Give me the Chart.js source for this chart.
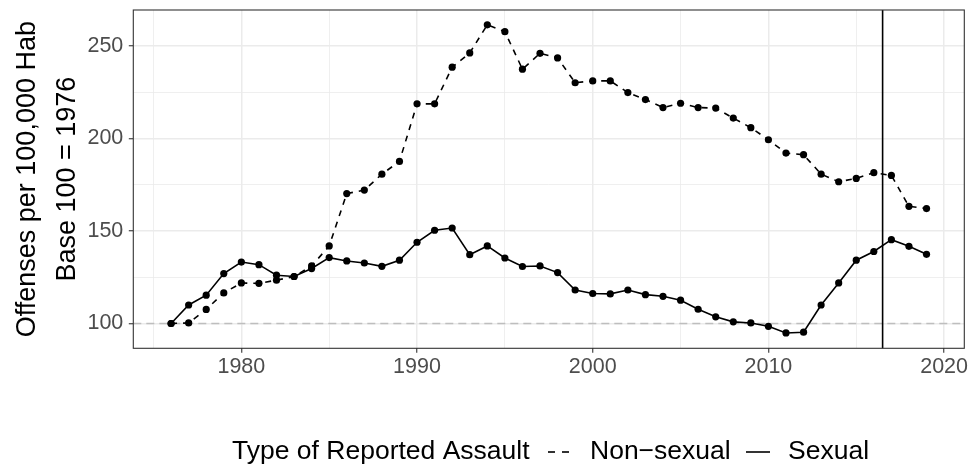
<!DOCTYPE html>
<html>
<head>
<meta charset="utf-8">
<script src="https://cdn.jsdelivr.net/npm/chart.js@4.4.1/dist/chart.umd.min.js"></script>
<style>
  html, body { margin: 0; padding: 0; background: #ffffff; }
  #wrap { width: 973px; height: 470px; }
</style>
</head>
<body>
<div id="wrap"><canvas id="assaultChart" width="973" height="470"></canvas></div>
<script>
// Datos
const years = [1976, 1977, 1978, 1979, 1980, 1981, 1982, 1983, 1984, 1985,
               1986, 1987, 1988, 1989, 1990, 1991, 1992, 1993, 1994, 1995,
               1996, 1997, 1998, 1999, 2000, 2001, 2002, 2003, 2004, 2005,
               2006, 2007, 2008, 2009, 2010, 2011, 2012, 2013, 2014, 2015,
               2016, 2017, 2018, 2019];
const sexual = [100, 110.0, 115.3, 127.0, 133.2, 131.8, 126.1, 125.4, 129.7, 135.6,
                133.8, 132.7, 130.9, 134.2, 143.9, 150.4, 151.6, 137.2, 141.9, 135.4,
                130.8, 131.1, 127.5, 118.1, 116.2, 116.0, 118.1, 115.6, 114.7, 112.6,
                107.7, 103.6, 100.9, 100.3, 98.5, 94.9, 95.3, 110.0, 121.9, 134.2,
                138.9, 145.3, 141.7, 137.4];
const nonSexual = [100, 100.3, 107.6, 116.5, 121.9, 121.7, 123.4, 125.4, 131.1, 141.9,
                   170.2, 172.1, 180.7, 187.6, 218.7, 218.7, 238.5, 246.2, 261.4, 257.7,
                   237.4, 246.0, 243.5, 230.1, 231.1, 231.1, 224.8, 221.0, 216.7, 219.0,
                   216.7, 216.4, 211.0, 205.8, 199.3, 192.1, 191.2, 180.7, 176.6, 178.4,
                   181.5, 180.0, 163.3, 162.1];
const xGridYears = [1975, 1980, 1985, 1990, 1995, 2000, 2005, 2010, 2015, 2020];
const yGridValues = [100, 125, 150, 175, 200, 225, 250];
const baseValue = 100;
const markerYear = 2016.5;
const legendTitle = 'Type of Reported Assault';
const seriesNames = ['Non\u2212sexual', 'Sexual'];

const toPoints = (vals) => years.map((yr, i) => ({x: yr, y: vals[i]}));

// lineas de referencia, borde del panel y leyenda
const panelDecor = {
    id: 'panelDecor',
    beforeDatasetsDraw(chart) {
        const {ctx, chartArea: a, scales: {x, y}} = chart;
        ctx.save();
        const yb = y.getPixelForValue(baseValue);
        ctx.strokeStyle = '#bebebe';
        ctx.lineWidth = 1.5;
        ctx.setLineDash([8, 5]);
        ctx.beginPath();
        ctx.moveTo(a.left, yb);
        ctx.lineTo(a.right, yb);
        ctx.stroke();

        const xm = x.getPixelForValue(markerYear);
        ctx.setLineDash([]);
        ctx.strokeStyle = '#000000';
        ctx.lineWidth = 1.6;
        ctx.beginPath();
        ctx.moveTo(xm, a.top);
        ctx.lineTo(xm, a.bottom);
        ctx.stroke();
        ctx.restore();
    },
    afterDraw(chart) {
        const {ctx, chartArea: a} = chart;
        ctx.save();
        ctx.strokeStyle = '#333333';
        ctx.lineWidth = 1.1;
        ctx.strokeRect(a.left, a.top, a.right - a.left, a.bottom - a.top);

        // leyenda
        const ly = 452;
        ctx.fillStyle = '#000000';
        ctx.font = '26.5px "Liberation Sans", Arial, sans-serif';
        ctx.textBaseline = 'middle';
        ctx.textAlign = 'left';
        ctx.fillText(legendTitle, 232, ly);

        ctx.strokeStyle = '#000000';
        ctx.lineWidth = 1.6;
        ctx.setLineDash([7, 7]);
        ctx.beginPath();
        ctx.moveTo(548, ly);
        ctx.lineTo(569, ly);
        ctx.stroke();
        ctx.fillText(seriesNames[0], 590, ly);

        ctx.setLineDash([]);
        ctx.beginPath();
        ctx.moveTo(746, ly);
        ctx.lineTo(770, ly);
        ctx.stroke();
        ctx.fillText(seriesNames[1], 788, ly);
        ctx.restore();
    }
};

const isMajorX = (v) => v % 10 === 0;
const isMajorY = (v) => v % 50 === 0;

const ctx = document.getElementById('assaultChart').getContext('2d');
window.assaultChart = new Chart(ctx, {
    type: 'line',
    data: {
        datasets: [{
            label: seriesNames[0],
            data: toPoints(nonSexual),
            borderColor: '#000000',
            backgroundColor: '#000000',
            borderWidth: 1.6,
            borderDash: [6, 6],
            pointRadius: 3.6,
            pointBorderWidth: 0,
            tension: 0,
            fill: false
        }, {
            label: seriesNames[1],
            data: toPoints(sexual),
            borderColor: '#000000',
            backgroundColor: '#000000',
            borderWidth: 1.6,
            pointRadius: 3.6,
            pointBorderWidth: 0,
            tension: 0,
            fill: false
        }]
    },
    options: {
        responsive: false,
        devicePixelRatio: 1,
        animation: false,
        layout: {
            padding: {top: 10, right: 8.7, bottom: 0, left: 0}
        },
        plugins: {
            legend: {display: false},
            tooltip: {enabled: false}
        },
        scales: {
            x: {
                type: 'linear',
                min: 1973.85,
                max: 2021.15,
                afterBuildTicks: (scale) => {
                    scale.ticks = xGridYears.map(v => ({value: v}));
                },
                afterFit: (scale) => {
                    scale.height = 121.7;
                    scale.paddingLeft = 0;
                    scale.paddingRight = 0;
                },
                border: {display: false},
                grid: {
                    color: '#ebebeb',
                    lineWidth: (c) => isMajorX(c.tick.value) ? 1.5 : 0.8,
                    tickColor: (c) => isMajorX(c.tick.value) ? '#333333' : 'rgba(0,0,0,0)',
                    tickLength: 4.5,
                    tickWidth: 1.1
                },
                ticks: {
                    autoSkip: false,
                    maxRotation: 0,
                    padding: 1,
                    color: '#4d4d4d',
                    font: {family: '"Liberation Sans", Arial, sans-serif', size: 21.5},
                    callback: (v) => isMajorX(v) ? String(v) : ''
                }
            },
            y: {
                min: 86.6,
                max: 269.4,
                afterBuildTicks: (scale) => {
                    scale.ticks = yGridValues.map(v => ({value: v}));
                },
                afterFit: (scale) => {
                    scale.width = 133.3;
                    scale.paddingTop = 0;
                    scale.paddingBottom = 0;
                },
                border: {display: false},
                grid: {
                    color: '#ebebeb',
                    lineWidth: (c) => isMajorY(c.tick.value) ? 1.5 : 0.8,
                    tickColor: (c) => isMajorY(c.tick.value) ? '#333333' : 'rgba(0,0,0,0)',
                    tickLength: 4.5,
                    tickWidth: 1.1
                },
                ticks: {
                    autoSkip: false,
                    padding: 5.5,
                    color: '#4d4d4d',
                    font: {family: '"Liberation Sans", Arial, sans-serif', size: 21.5},
                    callback: (v) => isMajorY(v) ? String(v) : ''
                },
                title: {
                    display: true,
                    text: ['Offenses per 100,000 Hab', 'Base 100 = 1976'],
                    color: '#000000',
                    font: {family: '"Liberation Sans", Arial, sans-serif', size: 27, lineHeight: 1.48},
                    padding: {top: 8, bottom: 0}
                }
            }
        }
    },
    plugins: [panelDecor]
});
</script>
</body>
</html>
